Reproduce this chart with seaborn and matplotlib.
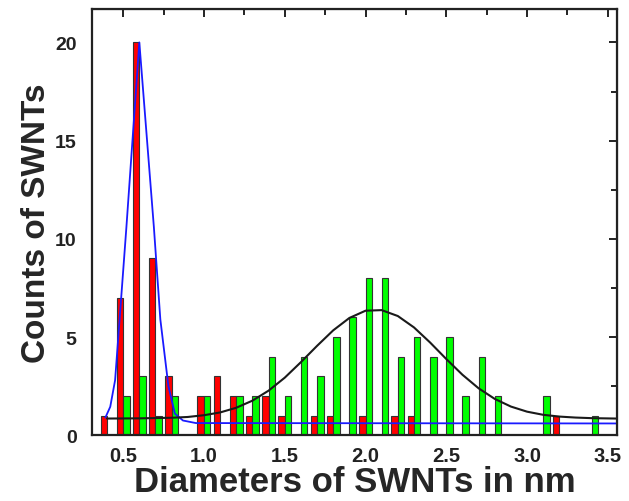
import numpy as np
import pandas as pd
import seaborn as sns
import matplotlib.pyplot as plt
from matplotlib.ticker import MultipleLocator

# Histogram bins (nm)
diameters = [0.4, 0.5, 0.6, 0.7, 0.8, 0.9, 1.0, 1.1, 1.2, 1.3, 1.4,
             1.5, 1.6, 1.7, 1.8, 1.9, 2.0, 2.1, 2.2, 2.3, 2.4, 2.5,
             2.6, 2.7, 2.8, 2.9, 3.0, 3.1, 3.2, 3.3, 3.4]
red_counts = [1, 7, 20, 9, 3, 0, 2, 3, 2, 1, 2,
              1, 0, 1, 1, 0, 1, 0, 1, 1, 0, 0,
              0, 0, 0, 0, 0, 0, 1, 0, 0]
green_counts = [0, 2, 3, 1, 2, 0, 2, 0, 2, 2, 4,
                2, 4, 3, 5, 6, 8, 8, 4, 5, 4, 5,
                2, 4, 2, 0, 0, 2, 0, 0, 1]

# Fitted curves
blue_x = [0.39, 0.42, 0.45, 0.52, 0.60, 0.69, 0.73, 0.78, 0.82, 0.87, 0.95, 3.55]
blue_y = [0.9, 1.45, 2.8, 10.6, 20.0, 10.6, 5.9, 2.5, 1.1, 0.75, 0.62, 0.6]

black_x = [0.4, 0.6, 0.8, 0.9, 1.0, 1.1, 1.2, 1.3, 1.4, 1.5, 1.6, 1.7, 1.8,
           1.9, 2.0, 2.1, 2.2, 2.3, 2.4, 2.5, 2.6, 2.7, 2.8, 2.9, 3.0,
           3.1, 3.2, 3.3, 3.4, 3.55]
black_y = [0.85, 0.86, 0.89, 0.93, 1.02, 1.16, 1.40, 1.76, 2.27, 2.93, 3.72,
           4.55, 5.34, 5.97, 6.34, 6.37, 6.07, 5.49, 4.72, 3.88, 3.08, 2.39,
           1.85, 1.46, 1.20, 1.04, 0.95, 0.90, 0.87, 0.85]

df = pd.DataFrame({
    "diameter": diameters * 2,
    "count": red_counts + green_counts,
    "sample": ["red"] * len(diameters) + ["green"] * len(diameters),
})
df = df[df["count"] > 0]

sns.set_style("white")
plt.rcParams["font.family"] = ["Liberation Sans", "DejaVu Sans"]
plt.rcParams["font.weight"] = "bold"

fig = plt.figure(figsize=(6.29, 5.02), dpi=100)
ax = fig.add_axes([0.146, 0.131, 0.835, 0.849])

sns.barplot(data=df, x="diameter", y="count", hue="sample",
            hue_order=["red", "green"], native_scale=True, errorbar=None,
            palette=["#ff0000", "#00ff00"], saturation=1, width=0.8,
            edgecolor="#333333", linewidth=0.8, legend=False, ax=ax)

sns.lineplot(x=blue_x, y=blue_y, sort=False, color="#1a1aff", linewidth=1.3, ax=ax)
sns.lineplot(x=black_x, y=black_y, sort=False, color="#1a1a1a", linewidth=1.5, ax=ax)

ax.set_xlim(0.306, 3.557)
ax.set_ylim(0, 21.7)
ax.xaxis.set_major_locator(MultipleLocator(0.5))
ax.xaxis.set_minor_locator(MultipleLocator(0.25))
ax.yaxis.set_major_locator(MultipleLocator(5))
ax.yaxis.set_minor_locator(MultipleLocator(2.5))
ax.set_xticks([0.5, 1.0, 1.5, 2.0, 2.5, 3.0, 3.5])
ax.set_xticklabels(["0.5", "1.0", "1.5", "2.0", "2.5", "3.0", "3.5"])

ax.tick_params(which="both", direction="out", width=1.4, labelsize=14.5,
               top=False, right=False, colors="#222222")
ax.tick_params(axis="x", pad=2)
ax.tick_params(axis="y", pad=5, labelsize=14)
ax.tick_params(which="major", length=6)
ax.tick_params(which="minor", length=4)
for s in ax.spines.values():
    s.set_linewidth(1.6)
    s.set_color("#222222")

# mirrored inward ticks on top and right
top = ax.secondary_xaxis("top")
top.xaxis.set_major_locator(MultipleLocator(0.5))
top.xaxis.set_minor_locator(MultipleLocator(0.25))
top.tick_params(which="both", direction="in", width=1.4, labeltop=False, colors="#222222")
top.tick_params(which="major", length=6)
top.tick_params(which="minor", length=4)
right = ax.secondary_yaxis("right")
right.yaxis.set_major_locator(MultipleLocator(5))
right.yaxis.set_minor_locator(MultipleLocator(2.5))
right.tick_params(which="both", direction="in", width=1.4, labelright=False, colors="#222222")
right.tick_params(which="major", length=6)
right.tick_params(which="minor", length=4)

ax.set_xlabel("Diameters of SWNTs in nm", fontsize=25, fontweight="bold", labelpad=0)
ax.set_ylabel("Counts of SWNTs", fontsize=24, fontweight="bold")
ax.yaxis.set_label_coords(-0.076, 0.5)

fig.savefig("out.png", dpi=100)
